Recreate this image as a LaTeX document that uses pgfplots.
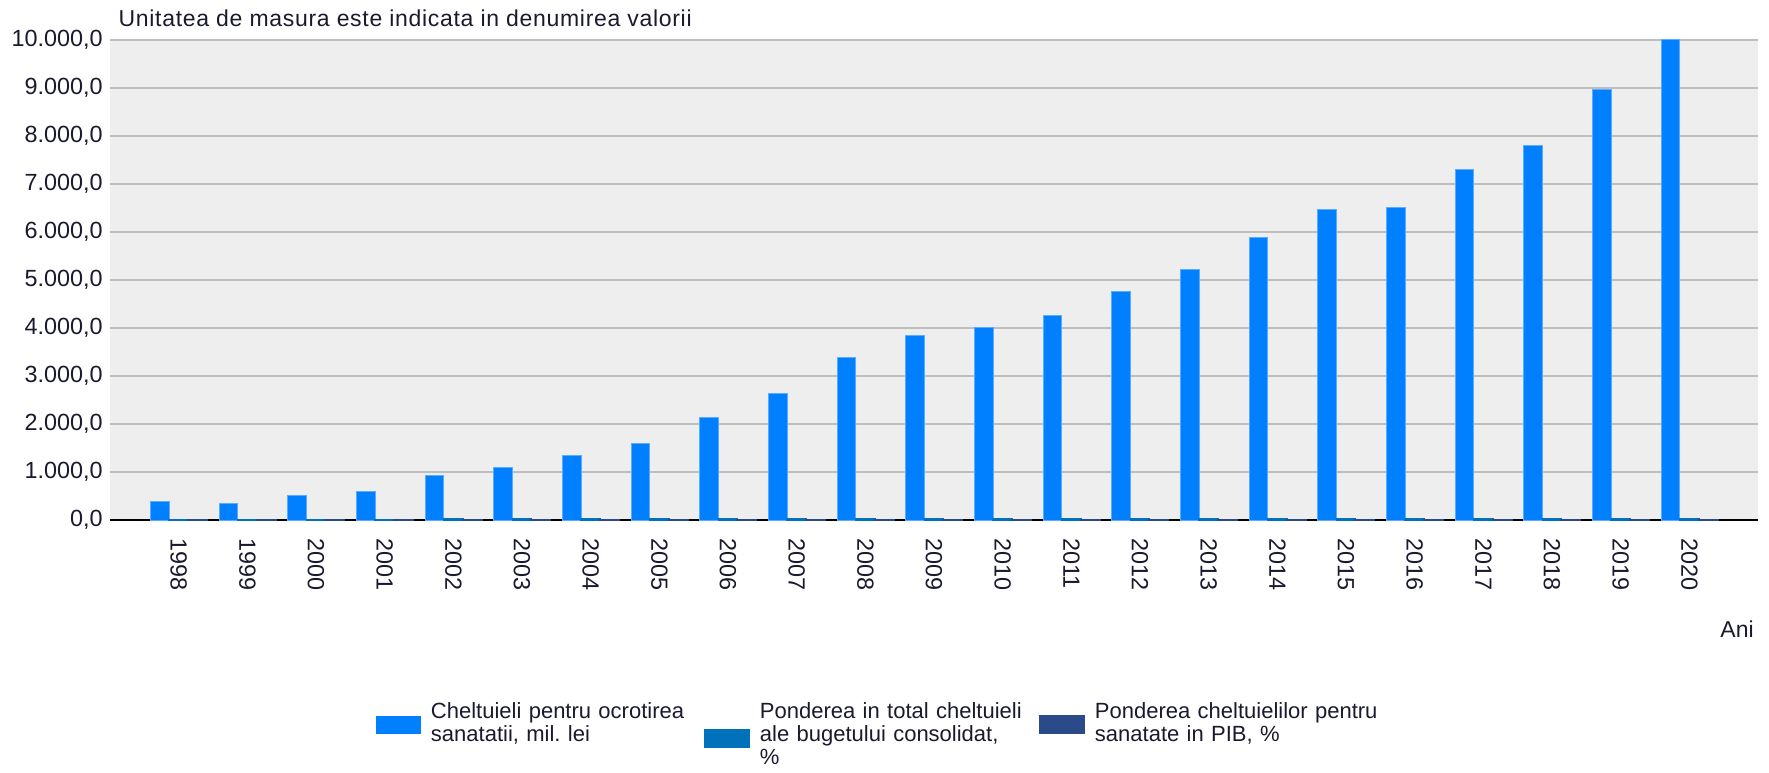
\documentclass[border=0pt]{standalone}
\usepackage{fontspec}
\setmainfont{Liberation Sans}
\usepackage{pgfplots}
\usepackage{pgfplotstable}
\pgfplotsset{compat=1.18}
\definecolor{cA}{HTML}{0080FF}
\definecolor{cB}{HTML}{0072BC}
\definecolor{cC}{HTML}{2A4A8A}
\definecolor{bg}{HTML}{EEEEEE}
\definecolor{gridc}{HTML}{BEBEBE}
\definecolor{txt}{HTML}{1A1A2E}

\pgfplotstableread{
x v1 v2 v3
0 382 10.3 4.0
1 347 8.6 2.8
2 507 9.2 3.0
3 597 10.0 3.1
4 931 12.1 4.2
5 1090 11.9 4.3
6 1340 12.2 4.4
7 1597 11.3 4.3
8 2139 12.5 4.9
9 2639 12.0 5.0
10 3389 12.9 5.5
11 3847 13.2 6.3
12 4007 13.2 5.4
13 4264 13.0 5.1
14 4757 12.8 5.2
15 5222 12.6 5.2
16 5889 12.6 5.3
17 6472 13.1 5.3
18 6520 12.6 4.9
19 7306 12.7 4.8
20 7806 11.8 4.6
21 8979 12.1 4.7
22 10000 11.9 4.9
}\datatable

\begin{document}
\hyphenpenalty=10000
\frenchspacing
\begin{tikzpicture}
\useasboundingbox (0,0) rectangle (884.5pt,386pt);
\begin{axis}[
  at={(55pt,126pt)}, anchor=south west,
  scale only axis, width=824pt, height=240pt,
  xmin=-1, xmax=23, ymin=0, ymax=10000,
  ybar, bar width=0.275,
  axis background/.style={fill=bg},
  axis x line*=bottom, axis y line*=left,
  x axis line style={draw=black, line width=1pt},
  y axis line style={draw=none},
  major tick length=0pt,
  ymajorgrids, grid style={draw=gridc, line width=0.8pt},
  ytick={0,1000,...,10000},
  xtick={0,...,22},
  xticklabels={1998,1999,2000,2001,2002,2003,2004,2005,2006,2007,2008,2009,2010,2011,2012,2013,2014,2015,2016,2017,2018,2019,2020},
  /pgf/number format/assume math mode=true,
  yticklabel={\pgfmathprintnumber[fixed,fixed zerofill,precision=1,use comma,1000 sep={.}]{\tick}},
  scaled y ticks=false,
  tick label style={font=\fontsize{11.7}{14}\selectfont, text=txt},
  yticklabel style={anchor=east, inner sep=0pt, xshift=-3.5pt},
  xticklabel style={rotate=-90, anchor=west, inner sep=0pt},
  xticklabel shift=9pt,
  title={\addfontfeature{LetterSpace=3}Unitatea de masura este indicata in denumirea valorii},
  title style={at={(axis description cs:0.005,1.004)}, anchor=base west, inner sep=0pt, font=\fontsize{11.5}{13}\selectfont, text=txt},
  xlabel={Ani},
  xlabel style={at={(axis description cs:0.9976,-0.2458)}, anchor=base east, inner sep=0pt, font=\fontsize{11.5}{14}\selectfont, text=txt},
  legend columns=3,
  legend style={at={(axis description cs:0.1614,-0.3813)}, anchor=north west, draw=none, fill=none, inner sep=0pt, outer sep=0pt,
    font=\fontsize{11}{11.5}\selectfont, text=txt,
    /tikz/every odd column/.style={column sep=5pt},
    /tikz/every even column/.style={column sep=0pt},
    nodes={inner sep=0pt, anchor=north west, align=left}},
]
\addplot[fill=cA, draw=cA!65!white, line width=0.5pt, bar shift=-0.275,
  legend image code/.code={\fill[cA] (0pt,-15pt) rectangle (22pt,-6.5pt);}]
  table[x=x,y=v1]{\datatable};
\addlegendentry[text width=136.5pt]{Cheltuieli pentru ocrotirea\\sanatatii, mil. lei}
\addplot[fill=cB, draw=cB, line width=1pt, bar shift=0,
  legend image code/.code={\fill[cB] (0pt,-22pt) rectangle (22pt,-13.5pt);}]
  table[x=x,y=v2]{\datatable};
\addlegendentry[text width=139.5pt]{Ponderea in total cheltuieli\\ale bugetului consolidat,\\\%}
\addplot[fill=cC, draw=cC, line width=1pt, bar shift=0.275,
  legend image code/.code={\fill[cC] (0pt,-15pt) rectangle (22pt,-6.5pt);}]
  table[x=x,y=v3]{\datatable};
\addlegendentry[text width=150pt]{Ponderea cheltuielilor pentru\\sanatate in PIB, \%}
\end{axis}
\end{tikzpicture}
\end{document}
